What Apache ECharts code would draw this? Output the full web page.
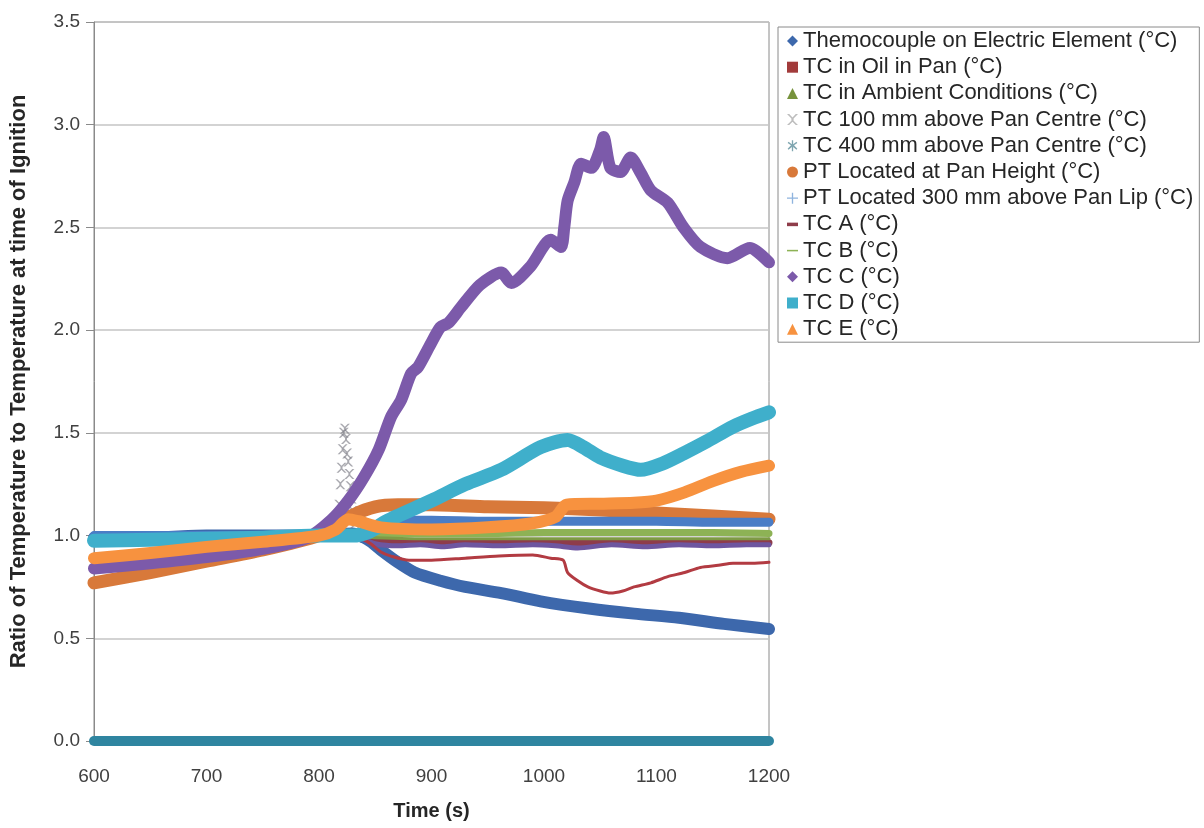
<!DOCTYPE html>
<html>
<head>
<meta charset="utf-8">
<script src="https://cdn.jsdelivr.net/npm/echarts@6/dist/echarts.min.js"></script>
<style>html,body{margin:0;padding:0;background:#fff}#c{width:1204px;height:828px}</style>
</head>
<body>
<div id="c"></div>
<script>
// ---- tick labels / axis ----
const xTicks = [600, 700, 800, 900, 1000, 1100, 1200];
const yTicks = [0.0, 0.5, 1.0, 1.5, 2.0, 2.5, 3.0, 3.5];

// ---- series names ----
const seriesNames = [
  'Themocouple on Electric Element (°C)',
  'TC in Oil in Pan (°C)',
  'TC in Ambient Conditions (°C)',
  'TC 100 mm above Pan Centre (°C)',
  'TC 400 mm above Pan Centre (°C)',
  'PT Located at Pan Height (°C)',
  'PT Located 300 mm above Pan Lip (°C)',
  'TC A (°C)',
  'TC B (°C)',
  'TC C (°C)',
  'TC D (°C)',
  'TC E (°C)'
];

// ---- series values [time (s), ratio] ----
const elementTC = [[600,0.99],[650,0.99],[700,1.0],[750,1.0],[800,1.0],[830,1.01],[840,0.99],[846,0.97],[855,0.93],[870,0.87],[885,0.82],[908,0.78],[930,0.75],[962,0.72],[997,0.68],[1040,0.645],[1080,0.62],[1120,0.6],[1160,0.57],[1200,0.545]];
const oilTC = [[600,0.99],[700,0.99],[800,1.0],[835,1.0],[850,0.97],[900,0.965],[950,0.97],[1000,0.965],[1050,0.965],[1100,0.965],[1150,0.97],[1200,0.965]];
const ambientTC = [[600,1.0],[700,1.0],[800,1.0],[850,1.01],[900,1.01],[950,1.01],[1000,1.015],[1050,1.015],[1100,1.015],[1150,1.015],[1200,1.01]];
const tc100Band = [[600,0.99],[700,1.0],[800,1.0],[835,0.99],[850,0.96],[870,0.95],[890,0.955],[910,0.945],[930,0.955],[960,0.95],[990,0.955],[1010,0.95],[1030,0.94],[1060,0.955],[1090,0.945],[1120,0.955],[1150,0.95],[1180,0.955],[1200,0.955]];
const tc100Spike = [[816,1.08],[818,1.15],[819,1.25],[820,1.33],[821,1.42],[822,1.5],[823,1.52],[824,1.47],[825,1.4],[826,1.36],[827,1.3],[828,1.24],[829,1.18],[830,1.12],[832,1.06]];
const tc400 = [[600,0.0],[700,0.0],[800,0.0],[900,0.0],[1000,0.0],[1100,0.0],[1200,0.0]];
const ptPanHeight = [[600,0.77],[650,0.82],[700,0.875],[750,0.93],[800,1.0],[815,1.05],[830,1.1],[850,1.14],[870,1.15],[900,1.15],[950,1.14],[1000,1.135],[1050,1.125],[1100,1.11],[1150,1.095],[1200,1.08]];
const ptPanLip = [[600,1.0],[700,1.0],[800,1.0],[840,1.01],[855,1.05],[870,1.075],[900,1.075],[950,1.07],[1000,1.07],[1050,1.07],[1100,1.07],[1150,1.065],[1200,1.065]];
const tcA = [[600,1.0],[700,1.0],[800,1.0],[835,1.0],[840,0.98],[846,0.96],[855,0.92],[864,0.9],[880,0.88],[900,0.88],[930,0.89],[960,0.9],[990,0.905],[1006,0.89],[1017,0.88],[1021,0.82],[1030,0.78],[1039,0.75],[1050,0.73],[1059,0.72],[1070,0.73],[1080,0.75],[1095,0.77],[1110,0.8],[1125,0.82],[1139,0.845],[1155,0.855],[1168,0.865],[1185,0.865],[1200,0.87]];
const tcB = [[600,1.0],[700,1.0],[800,1.0],[850,0.99],[900,0.985],[950,0.985],[1000,0.985],[1050,0.985],[1100,0.985],[1150,0.985],[1200,0.985]];
const tcC = [[600,0.84],[650,0.865],[700,0.895],[750,0.935],[790,0.99],[811,1.076],[826,1.17],[840,1.285],[853,1.417],[864,1.577],[873,1.66],[882,1.79],[888,1.82],[898,1.92],[908,2.015],[915,2.035],[926,2.11],[943,2.22],[962,2.28],[971,2.23],[988,2.31],[1006,2.44],[1015,2.405],[1018,2.5],[1021,2.63],[1027,2.72],[1033,2.81],[1042,2.79],[1050,2.88],[1053,2.94],[1059,2.79],[1068,2.77],[1077,2.84],[1086,2.765],[1095,2.68],[1110,2.62],[1124,2.5],[1139,2.405],[1163,2.35],[1183,2.4],[1200,2.33]];
const tcD = [[600,0.975],[650,0.98],[700,0.985],[750,0.99],[800,1.0],[830,1.0],[845,1.02],[860,1.07],[900,1.17],[930,1.25],[962,1.32],[997,1.43],[1021,1.465],[1035,1.43],[1050,1.38],[1070,1.34],[1086,1.32],[1105,1.35],[1124,1.4],[1145,1.46],[1168,1.53],[1185,1.57],[1200,1.6]];
const tcE = [[600,0.89],[650,0.915],[700,0.945],[750,0.97],[800,1.0],[815,1.03],[826,1.08],[835,1.07],[855,1.04],[900,1.03],[950,1.04],[990,1.06],[1010,1.09],[1020,1.15],[1050,1.155],[1080,1.16],[1100,1.17],[1125,1.21],[1150,1.265],[1175,1.31],[1200,1.34]];

const FONT = '"Liberation Sans", Arial, sans-serif';
const P = {
  x: 'path://M0,0 L2,0 L5,3 L8,0 L10,0 L6,4 L6,6 L10,10 L8,10 L5,7 L2,10 L0,10 L4,6 L4,4 Z',
  star: 'path://M4.4,0 L5.6,0 L5.6,3.6 L8.6,1.4 L9.4,2.4 L6.4,4.6 L9.4,7.6 L8.6,8.6 L5.6,6 L5.6,10 L4.4,10 L4.4,6 L1.4,8.6 L0.6,7.6 L3.6,4.6 L0.6,2.4 L1.4,1.4 L4.4,3.6 Z',
  plus: 'path://M4.4,0 L5.6,0 L5.6,4.4 L10,4.4 L10,5.6 L5.6,5.6 L5.6,10 L4.4,10 L4.4,5.6 L0,5.6 L0,4.4 L4.4,4.4 Z',
  shortDash: 'path://M3,4.2 L8,4.2 L8,5.8 L3,5.8 Z',
  longDash: 'path://M0,4.3 L10,4.3 L10,5.7 L0,5.7 Z'
};

function lineSeries(name, data, color, width, z) {
  return {
    name: name, type: 'line', data: data, showSymbol: false, symbol: 'none',
    smooth: 0.25, z: z,
    itemStyle: { color: color },
    lineStyle: { color: color, width: width, cap: 'round', join: 'round' },
    emphasis: { disabled: true }, animation: false
  };
}

const series = [
  lineSeries(seriesNames[0], elementTC, '#3D68AC', 12, 2),
  lineSeries(seriesNames[1], oilTC, '#8E3C4A', 7, 3),
  lineSeries(seriesNames[2], ambientTC, '#8DB255', 7, 4),
  Object.assign(lineSeries(seriesNames[3], tc100Band, '#6E56A0', 5, 5), { itemStyle: { color: '#BDBDBD' } }),
  {
    name: seriesNames[3], type: 'scatter', data: tc100Spike, symbol: P.x, symbolSize: 10, z: 5,
    itemStyle: { color: 'rgba(120,120,130,0.8)' }, emphasis: { disabled: true }, animation: false
  },
  lineSeries(seriesNames[4], tc400, '#2F85A0', 10, 6),
  lineSeries(seriesNames[5], ptPanHeight, '#D8793A', 13, 7),
  Object.assign(lineSeries(seriesNames[6], ptPanLip, '#4A7DC6', 9, 8), { itemStyle: { color: '#8FB4DE' } }),
  lineSeries(seriesNames[7], tcA, '#B23B42', 3, 9),
  lineSeries(seriesNames[8], tcB, '#7E9A45', 3, 10),
  lineSeries(seriesNames[9], tcC, '#7C5AAA', 12, 11),
  lineSeries(seriesNames[10], tcD, '#3FAFCB', 14, 12),
  lineSeries(seriesNames[11], tcE, '#F7923F', 12, 13)
];

const icons = ['diamond', 'rect', 'triangle', P.x, P.star, 'circle', P.plus, P.shortDash, P.longDash, 'diamond', 'rect', 'triangle'];
const legendColors = ['#3D68AC', '#A23B3B', '#77933C', '#BDBDBD', '#7FA6B0', '#D8793A', '#8FB4DE', '#8E3C4A', '#8DB255', '#7C5AAA', '#3FAFCB', '#F7923F'];

const chart = echarts.init(document.getElementById('c'), null, { renderer: 'canvas' });
chart.setOption({
  animation: false,
  backgroundColor: '#ffffff',
  textStyle: { fontFamily: FONT },
  grid: { left: 92, right: 435, top: 22, bottom: 87, show: true, borderColor: '#8a8a8a', borderWidth: 1, containLabel: false },
  legend: {
    orient: 'vertical', left: 778, top: 27,
    padding: [3, 6, 2, 9],
    borderColor: '#8a8a8a', borderWidth: 1,
    itemWidth: 11, itemHeight: 11, itemGap: 4.2,
    textStyle: { fontSize: 22, color: '#262626', fontFamily: FONT, lineHeight: 22 },
    data: seriesNames.map((n, i) => ({ name: n, icon: icons[i], itemStyle: { color: legendColors[i] } }))
  },
  xAxis: {
    type: 'value', min: 600, max: 1200, interval: 100,
    name: 'Time (s)', nameLocation: 'middle', nameGap: 60,
    nameTextStyle: { fontSize: 20, fontWeight: 'bold', color: '#262626', fontFamily: FONT },
    axisLine: { show: true, lineStyle: { color: '#8a8a8a' } },
    axisTick: { show: false },
    splitLine: { show: false },
    axisLabel: { fontSize: 19, color: '#404040', margin: 26, fontFamily: FONT,
      formatter: v => xTicks.includes(v) ? String(v) : '' }
  },
  yAxis: {
    type: 'value', min: 0, max: 3.5, interval: 0.5,
    name: 'Ratio of Temperature to Temperature at time of Ignition', nameLocation: 'middle', nameGap: 64,
    nameTextStyle: { fontSize: 22, fontWeight: 'bold', color: '#262626', fontFamily: FONT },
    axisLine: { show: true, lineStyle: { color: '#8a8a8a' } },
    axisTick: { show: true, length: 8, lineStyle: { color: '#8a8a8a' } },
    splitLine: { show: true, lineStyle: { color: '#c4c4c4', width: 1.5 } },
    axisLabel: { fontSize: 19, color: '#404040', margin: 14, fontFamily: FONT,
      formatter: v => yTicks.some(t => Math.abs(t - v) < 1e-9) ? v.toFixed(1) : '' }
  },
  series: series
});
</script>
</body>
</html>
